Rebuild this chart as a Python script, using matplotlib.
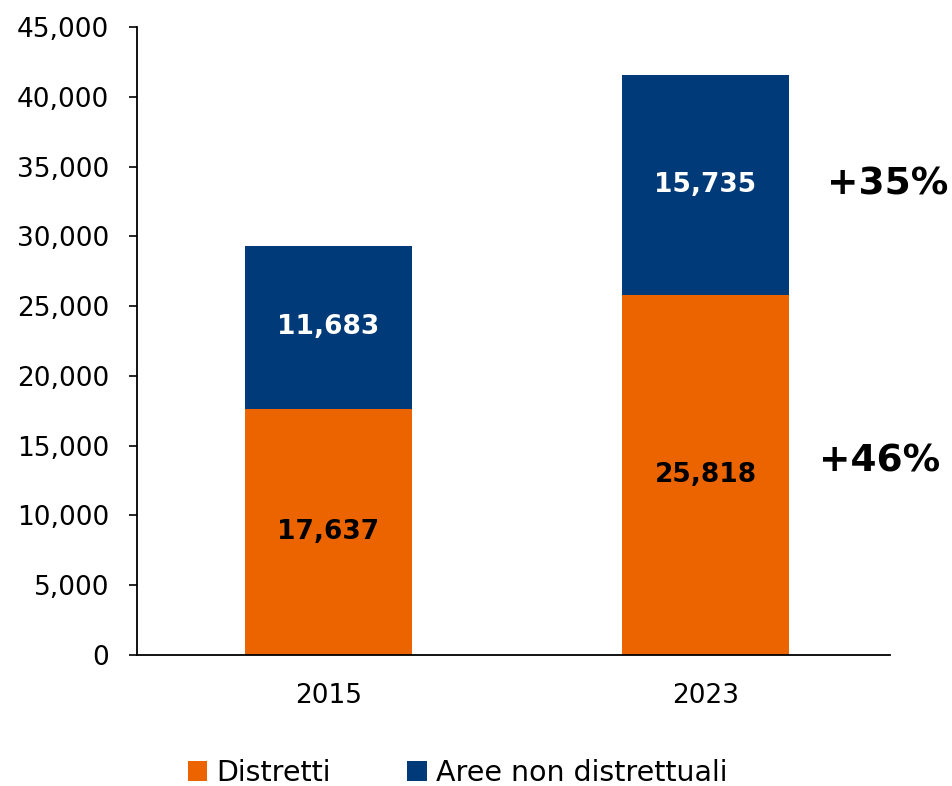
import matplotlib
matplotlib.use("Agg")
import matplotlib.pyplot as plt
from matplotlib.ticker import FuncFormatter

years = ["2015", "2023"]
distretti = [17637, 25818]
aree_non_distr = [11683, 15735]
growth_labels = ["+46%", "+35%"]

ORANGE = "#EB6400"
NAVY = "#003A78"

plt.rcParams['font.family'] = ['DejaVu Sans']

fig = plt.figure(figsize=(9.53, 7.86), dpi=100)
ax = fig.add_axes([0.1438, 0.1667, 0.790, 0.799])

x = list(range(len(years)))
w = 0.443
b1 = ax.bar(x, distretti, width=w, color=ORANGE, label="Distretti")
b2 = ax.bar(x, aree_non_distr, width=w, bottom=distretti, color=NAVY,
            label="Aree non distrettuali")

for i in x:
    ax.text(i, distretti[i] / 2, f"{distretti[i]:,}", ha="center", va="center",
            fontsize=19, fontweight="bold", color="black")
    ax.text(i, distretti[i] + aree_non_distr[i] / 2, f"{aree_non_distr[i]:,}",
            ha="center", va="center", fontsize=19, fontweight="bold", color="white")

# growth 2015 -> 2023, placed to the right of the 2023 bar
ax.text(1.463, 13830, growth_labels[0], ha="center", va="center",
        fontsize=27, fontweight="bold", clip_on=False)
ax.text(1.484, 33678, growth_labels[1], ha="center", va="center",
        fontsize=27, fontweight="bold", clip_on=False)

ax.set_xlim(-0.508, 1.489)
ax.set_ylim(0, 45000)
ax.set_yticks(range(0, 45001, 5000))
ax.yaxis.set_major_formatter(FuncFormatter(lambda v, p: f"{int(v):,}"))
ax.set_xticks(x)
ax.set_xticklabels(years)
ax.tick_params(axis="y", labelsize=19, length=6, width=1.2, direction="out", pad=14)
ax.tick_params(axis="x", labelsize=19, length=0, pad=20)
ax.spines["top"].set_visible(False)
ax.spines["right"].set_visible(False)
ax.spines["left"].set_linewidth(1.3)
ax.spines["bottom"].set_linewidth(1.3)

fig.legend(handles=[b1, b2], loc="center", bbox_to_anchor=(0.48, 0.017),
           ncol=2, frameon=False, fontsize=20.5, handlelength=0.7,
           handleheight=0.7, handletextpad=0.3, columnspacing=2.7)

fig.savefig("out.png", dpi=100)
